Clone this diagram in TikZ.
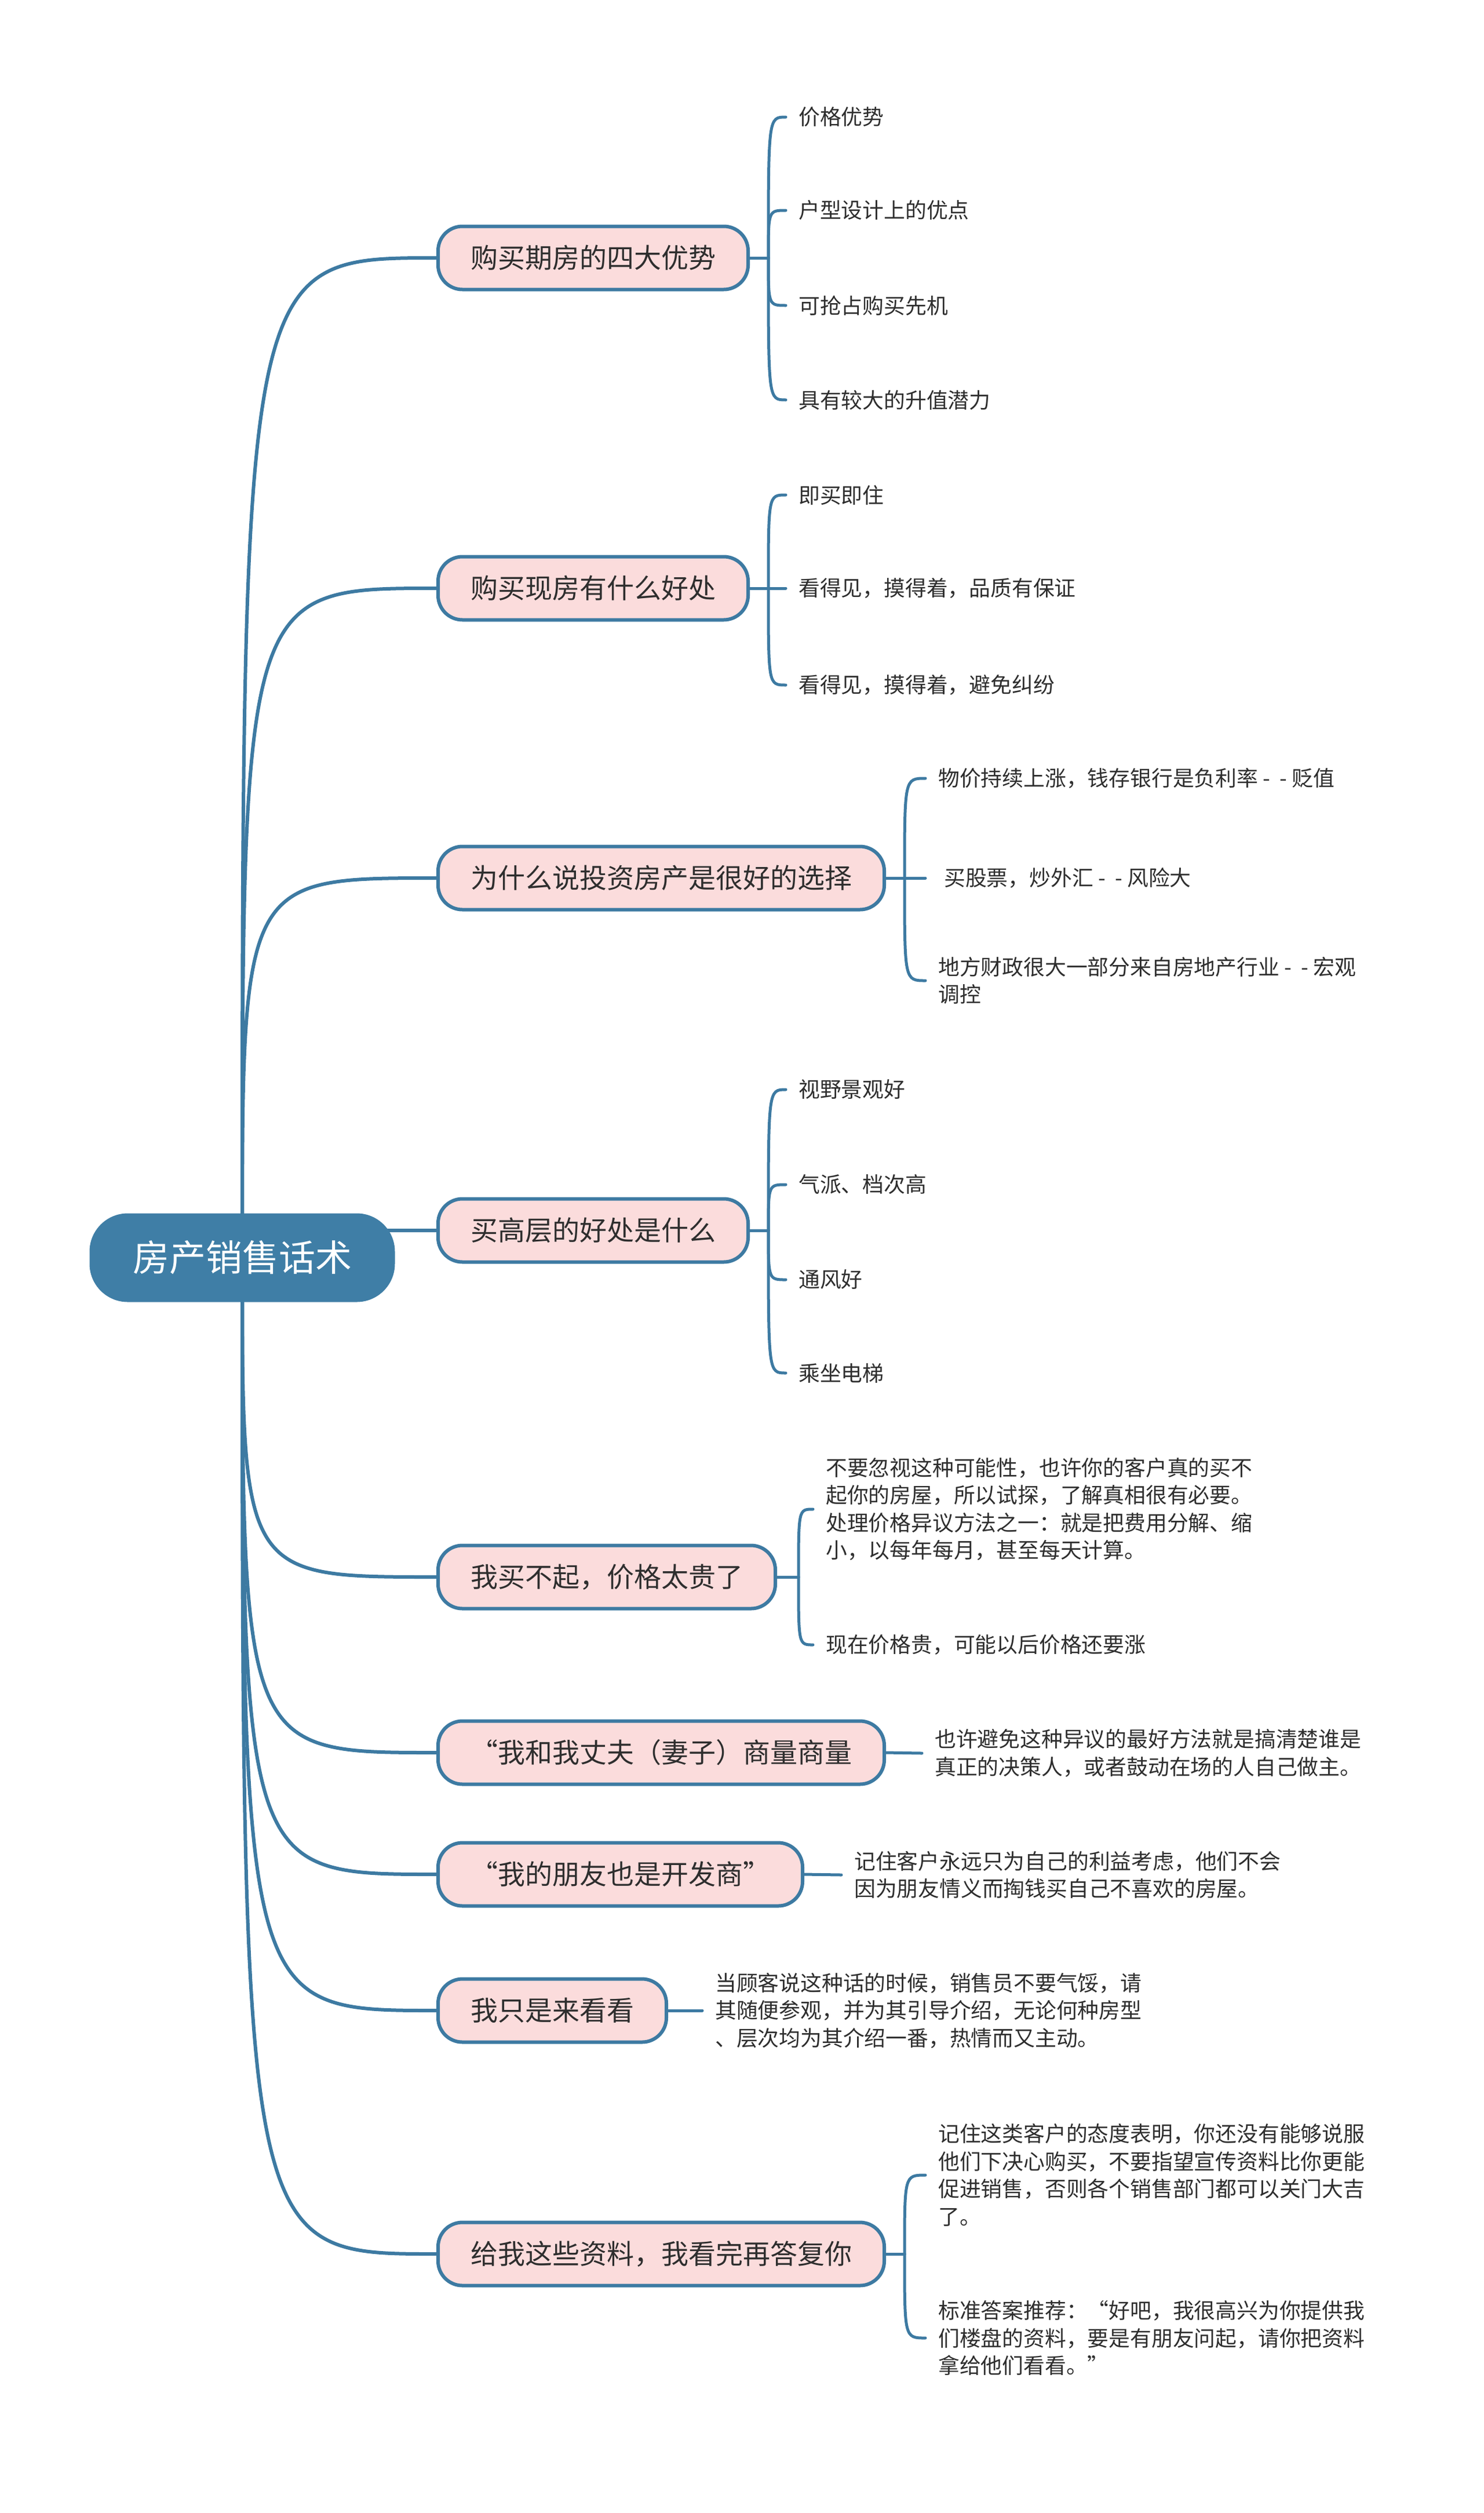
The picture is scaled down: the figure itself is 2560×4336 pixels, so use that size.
\documentclass[tikz,border=0pt]{standalone}
\usepackage{fontspec}
\newfontfamily\cjk{Noto Sans CJK SC}
\usetikzlibrary{backgrounds}

\definecolor{linkblue}{HTML}{3D7AA2}
\definecolor{rootblue}{HTML}{3F7EA6}
\definecolor{topicpink}{HTML}{FBDCDC}
\definecolor{inkgray}{HTML}{2E2E2E}

\tikzset{
  rootbox/.style={fill=rootblue, rounded corners=66pt, minimum width=527pt,
    minimum height=153pt, text=white, font=\cjk\fontsize{63pt}{70pt}\selectfont},
  topicbox/.style={draw=linkblue, line width=6pt, fill=topicpink,
    rounded corners=42pt, minimum height=109pt, inner xsep=56pt, inner ysep=0pt,
    anchor=west, text=inkgray, font=\cjk\fontsize{47pt}{55pt}\selectfont},
  leafbox/.style={anchor=west, inner xsep=22pt, inner ysep=4pt, align=left,
    text=inkgray, font=\cjk\fontsize{36.8pt}{47.5pt}\selectfont},
  trunk/.style={draw=linkblue, line width=6pt},
  twig/.style={draw=linkblue, line width=5pt, line cap=round},
}

\begin{document}
\begin{tikzpicture}[x=1pt,y=-1pt]
	\useasboundingbox (0,0) rectangle (2560,4336);

	\node[rootbox] (root) at (418,2170) {房产销售话术};

	\node[topicbox] (b1) at (753,445) {购买期房的四大优势};
	\node[topicbox] (b2) at (753,1015) {购买现房有什么好处};
	\node[topicbox] (b3) at (753,1515) {为什么说投资房产是很好的选择};
	\node[topicbox] (b4) at (753,2123) {买高层的好处是什么};
	\node[topicbox] (b5) at (753,2721) {我买不起，价格太贵了};
	\node[topicbox] (b6) at (753,3024) {“我和我丈夫（妻子）商量商量};
	\node[topicbox] (b7) at (753,3234) {“我的朋友也是开发商”};
	\node[topicbox] (b8) at (753,3469) {我只是来看看};
	\node[topicbox] (b9) at (753,3889) {给我这些资料，我看完再答复你};

	% leaves
	\node[leafbox] (l11) at (1356,202) {价格优势};
	\node[leafbox] (l12) at (1356,363) {户型设计上的优点};
	\node[leafbox] (l13) at (1356,527) {可抢占购买先机};
	\node[leafbox] (l14) at (1356,690) {具有较大的升值潜力};

	\node[leafbox] (l21) at (1356,854) {即买即住};
	\node[leafbox] (l22) at (1356,1015) {看得见，摸得着，品质有保证};
	\node[leafbox] (l23) at (1356,1182) {看得见，摸得着，避免纠纷};

	\node[leafbox] (l31) at (1597,1343) {物价持续上涨，钱存银行是负利率 - \ - 贬值};
	\node[leafbox] (l32) at (1597,1515) {\hspace{10pt}买股票，炒外汇 - \ - 风险大};
	\node[leafbox] (l33) at (1597,1692) {地方财政很大一部分来自房地产行业 - \ - 宏观\\调控};

	\node[leafbox] (l41) at (1356,1880) {视野景观好};
	\node[leafbox] (l42) at (1356,2044) {气派、档次高};
	\node[leafbox] (l43) at (1356,2208) {通风好};
	\node[leafbox] (l44) at (1356,2369) {乘坐电梯};

	\node[leafbox] (l51) at (1403,2604) {不要忽视这种可能性，也许你的客户真的买不\\起你的房屋，所以试探，了解真相很有必要。\\处理价格异议方法之一：就是把费用分解、缩\\小，以每年每月，甚至每天计算。};
	\node[leafbox] (l52) at (1403,2838) {现在价格贵，可能以后价格还要涨};

	\node[leafbox] (l61) at (1591,3025) {也许避免这种异议的最好方法就是搞清楚谁是\\真正的决策人，或者鼓动在场的人自己做主。};
	\node[leafbox] (l71) at (1452,3235) {记住客户永远只为自己的利益考虑，他们不会\\因为朋友情义而掏钱买自己不喜欢的房屋。};
	\node[leafbox] (l81) at (1212,3469) {当顾客说这种话的时候，销售员不要气馁，请\\其随便参观，并为其引导介绍，无论何种房型\\、层次均为其介绍一番，热情而又主动。};

	\node[leafbox] (l91) at (1597,3753) {记住这类客户的态度表明，你还没有能够说服\\他们下决心购买，不要指望宣传资料比你更能\\促进销售，否则各个销售部门都可以关门大吉\\了。};
	\node[leafbox] (l92) at (1597,4034) {标准答案推荐：“好吧，我很高兴为你提供我\\们楼盘的资料，要是有朋友问起，请你把资料\\拿给他们看看。”};

	\coordinate (k1) at (1326,445);
	\coordinate (k2) at (1326,1015);
	\coordinate (k3) at (1561,1515);
	\coordinate (k4) at (1326,2123);
	\coordinate (k5) at (1378,2721);
	\coordinate (k9) at (1561,3889);

	\begin{scope}[on background layer]
		\fill[white] (0,0) rectangle (2560,4336);

		% root to topics
		\draw[trunk] (root.center) .. controls (root.center |- b1.west) and (root.center |- b1.west) .. (b1.west);
		\draw[trunk] (root.center) .. controls (root.center |- b2.west) and (root.center |- b2.west) .. (b2.west);
		\draw[trunk] (root.center) .. controls (root.center |- b3.west) and (root.center |- b3.west) .. (b3.west);
		\draw[trunk] (root.center) .. controls (root.center |- b4.west) and (root.center |- b4.west) .. (b4.west);
		\draw[trunk] (root.center) .. controls (root.center |- b5.west) and (root.center |- b5.west) .. (b5.west);
		\draw[trunk] (root.center) .. controls (root.center |- b6.west) and (root.center |- b6.west) .. (b6.west);
		\draw[trunk] (root.center) .. controls (root.center |- b7.west) and (root.center |- b7.west) .. (b7.west);
		\draw[trunk] (root.center) .. controls (root.center |- b8.west) and (root.center |- b8.west) .. (b8.west);
		\draw[trunk] (root.center) .. controls (root.center |- b9.west) and (root.center |- b9.west) .. (b9.west);

		% topics to leaves
		\draw[twig] (b1.east) -- (k1);
		\draw[twig] (k1) .. controls (k1 |- l11.west) and (k1 |- l11.west) .. (l11.west);
		\draw[twig] (k1) .. controls (k1 |- l12.west) and (k1 |- l12.west) .. (l12.west);
		\draw[twig] (k1) .. controls (k1 |- l13.west) and (k1 |- l13.west) .. (l13.west);
		\draw[twig] (k1) .. controls (k1 |- l14.west) and (k1 |- l14.west) .. (l14.west);

		\draw[twig] (b2.east) -- (k2);
		\draw[twig] (k2) .. controls (k2 |- l21.west) and (k2 |- l21.west) .. (l21.west);
		\draw[twig] (k2) -- (l22.west);
		\draw[twig] (k2) .. controls (k2 |- l23.west) and (k2 |- l23.west) .. (l23.west);

		\draw[twig] (b3.east) -- (k3);
		\draw[twig] (k3) .. controls (k3 |- l31.west) and (k3 |- l31.west) .. (l31.west);
		\draw[twig] (k3) -- (l32.west);
		\draw[twig] (k3) .. controls (k3 |- l33.west) and (k3 |- l33.west) .. (l33.west);

		\draw[twig] (b4.east) -- (k4);
		\draw[twig] (k4) .. controls (k4 |- l41.west) and (k4 |- l41.west) .. (l41.west);
		\draw[twig] (k4) .. controls (k4 |- l42.west) and (k4 |- l42.west) .. (l42.west);
		\draw[twig] (k4) .. controls (k4 |- l43.west) and (k4 |- l43.west) .. (l43.west);
		\draw[twig] (k4) .. controls (k4 |- l44.west) and (k4 |- l44.west) .. (l44.west);

		\draw[twig] (b5.east) -- (k5);
		\draw[twig] (k5) .. controls (k5 |- l51.west) and (k5 |- l51.west) .. (l51.west);
		\draw[twig] (k5) .. controls (k5 |- l52.west) and (k5 |- l52.west) .. (l52.west);

		\draw[twig] (b6.east) -- (l61.west);
		\draw[twig] (b7.east) -- (l71.west);
		\draw[twig] (b8.east) -- (l81.west);

		\draw[twig] (b9.east) -- (k9);
		\draw[twig] (k9) .. controls (k9 |- l91.west) and (k9 |- l91.west) .. (l91.west);
		\draw[twig] (k9) .. controls (k9 |- l92.west) and (k9 |- l92.west) .. (l92.west);
	\end{scope}
\end{tikzpicture}
\end{document}
